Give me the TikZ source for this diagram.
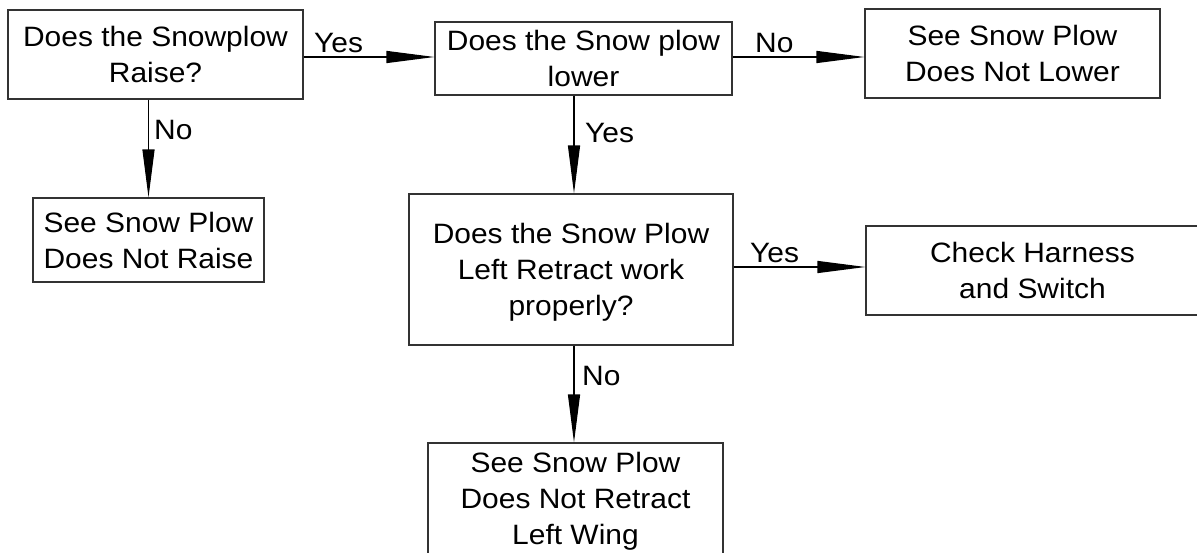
\documentclass[tikz,border=0pt]{standalone}
\usepackage{fontspec}
\setmainfont{Liberation Sans}[FakeStretch=1.07]
\usetikzlibrary{arrows.meta}
\tikzset{
  box/.style={draw=black!80, line width=1.1pt, rectangle, align=center, inner sep=0pt,
              font=\fontsize{28}{36}\selectfont},
  lbl/.style={anchor=base west, inner sep=0pt, font=\fontsize{28}{36}\selectfont},
  arr/.style={draw=black, line width=1.2pt, -{Triangle[length=48pt,width=12pt]}}
}
\begin{document}
\begin{tikzpicture}[x=1pt,y=-1pt]
\useasboundingbox (0,0) rectangle (1197,553);
\clip (0,0) rectangle (1197,553);
\node[box, minimum width=295pt, minimum height=89pt] (b1) at (155.5,54.5) {Does the Snowplow\\Raise?};
\node[box, minimum width=297pt, minimum height=73pt] (b2) at (583.5,58.5) {Does the Snow plow\\lower};
\node[box, minimum width=295pt, minimum height=89pt] (b3) at (1012.5,53.5) {See Snow Plow\\Does Not Lower};
\node[box, minimum width=231pt, minimum height=84pt] (b4) at (148.5,240) {See Snow Plow\\Does Not Raise};
\node[box, minimum width=324pt, minimum height=151pt, text depth=0pt] (b5) at (571,269.5) {Does the Snow Plow\\Left Retract work\\properly?};
\node[box, minimum width=333pt, minimum height=89pt] (b6) at (1032.5,270.5) {Check Harness\\and Switch};
\node[box, minimum width=295pt, minimum height=117pt] (b7) at (575.5,501.5) {See Snow Plow\\Does Not Retract\\Left Wing};

\draw[arr] (b1.east |- 0,57) coordinate (c1) -- (c1 -| b2.west);
\draw[arr] (b2.east |- 0,57) coordinate (c2) -- (c2 -| b3.west);
\draw[arr] (b4.north |- b1.south) -- (b4.north);
\draw[arr] (574,0 |- b2.south) coordinate (c3) -- (c3 |- b5.north);
\draw[arr] (b5.east |- 0,267) coordinate (c4) -- (c4 -| b6.west);
\draw[arr] (574,0 |- b5.south) coordinate (c5) -- (c5 |- b7.north);

\node[lbl] (l1) at (314,53) {Yes};
\node[lbl] (l2) at (755,53) {No};
\node[lbl] (l3) at (154,140) {No};
\node[lbl] (l4) at (585,143) {Yes};
\node[lbl] (l5) at (750,263) {Yes};
\node[lbl] (l6) at (582,385) {No};
\end{tikzpicture}
\end{document}
